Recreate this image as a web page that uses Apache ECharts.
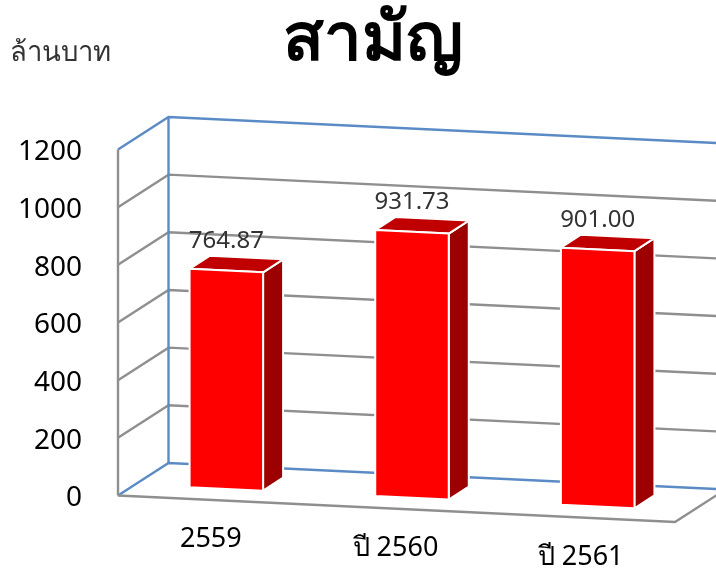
<!DOCTYPE html>
<html><head><meta charset="utf-8">
<style>html,body{margin:0;padding:0;background:#fff}#c{width:716px;height:569px}</style>
<script src="https://cdn.jsdelivr.net/npm/echarts@6/dist/echarts.min.js"></script>
</head><body><div id="c"></div>
<script>
const chartTitle = 'สามัญ';
const unitLabel = 'ล้านบาท';
const categories = ['2559', 'ปี 2560', 'ปี 2561'];
const values = [764.87, 931.73, 901.00];
const valueTicks = [0, 200, 400, 600, 800, 1000, 1200];

const FONT = '"Noto Sans","Open Sans",sans-serif';
const SLOPE = 0.0476, WALL = [50.5, -32.5], BAR_OFF = [15.5, -11], BAR_DEPTH = [20, -13];
const BAR_FORESHORTEN = 0.99;
const GRID = {left: 118, top: 149.5, width: 557, height: 346, outerBoundsMode: 'none'};
const GRAY = '#8f8f8f', BLUE = '#5b8bc6';

function shear(x, y) { return [x, y + SLOPE * (x - GRID.left)]; }
function line(pts, color) {
  return {type: 'polyline', shape: {points: pts}, style: {fill: null, stroke: color, lineWidth: 2.4}};
}
function renderFrame(params, api) {
  const tick = api.value(1);
  const band = api.size([1, 0])[0];
  const x0 = api.coord([0, tick])[0] - band / 2;
  const y = api.coord([0, tick])[1];
  const y0 = api.coord([0, 0])[1];
  const x1 = x0 + GRID.width;
  const color = (tick === 0 || tick === 1200) ? BLUE : GRAY;
  const bl = [x0 + WALL[0], y + WALL[1]];
  const br = [x1 + WALL[0], y + WALL[1] + SLOPE * GRID.width];
  const kids = [];
  if (tick === 1200) {
    kids.push(line([[x0, y], [x0, y0]], GRAY));
    kids.push(line([bl, [bl[0], y0 + WALL[1]]], BLUE));
  }
  kids.push(line([[x0, y], bl, br], color));
  if (tick === 0) {
    const fr = [x1, y + SLOPE * GRID.width];
    kids.push(line([[x0, y], fr, [fr[0] + WALL[0], fr[1] + WALL[1]]], GRAY));
  }
  return {type: 'group', children: kids};
}
function renderBar(params, api) {
  const i = api.value(0), v = api.value(1);
  const c = api.coord([i, v]), b = api.coord([i, 0]);
  const topY = b[1] + (c[1] - b[1]) * BAR_FORESHORTEN;
  const w = api.size([1, 0])[0] * 0.396;
  const l = c[0] - w / 2 + BAR_OFF[0], r = l + w;
  const P = (x, y, d) => {
    const p = shear(x - BAR_OFF[0], y);
    return [x + (d ? BAR_DEPTH[0] : 0), p[1] + BAR_OFF[1] + (d ? BAR_DEPTH[1] : 0)];
  };
  const border = {stroke: '#fff', lineWidth: 2, lineJoin: 'round'};
  const poly = (pts, fill, stroke) => ({type: 'polygon', shape: {points: pts},
    style: Object.assign({fill: fill}, stroke ? border : {})});
  const tl = P(l, topY, 0), tr = P(r, topY, 0), ttr = P(r, topY, 1), ttl = P(l, topY, 1);
  const bl = P(l, b[1], 0), br = P(r, b[1], 0), bbr = P(r, b[1], 1);
  return {type: 'group', children: [
    poly([tr, ttr, bbr, br], '#9c0000', true),
    poly([tl, ttl, ttr, tr], '#c00000', true),
    poly([tl, tr, br, bl], '#ff0000', true),
    {type: 'text', style: {x: (l + r) / 2, y: tl[1] - 27.5, text: v.toFixed(2), fill: '#333',
      font: '24px ' + FONT, align: 'center', verticalAlign: 'middle'}}
  ]};
}

const chart = echarts.init(document.getElementById('c'), null, {renderer: 'canvas'});
chart.setOption({
  animation: false,
  backgroundColor: '#fff',
  title: [
    {text: chartTitle, left: 368, top: 2, textAlign: 'center',
      textStyle: {fontSize: 67, fontWeight: 'bold', color: '#000', fontFamily: FONT}},
    {text: unitLabel, left: 5, top: 34,
      textStyle: {fontSize: 27.5, fontWeight: 'normal', color: '#333', fontFamily: FONT}}
  ],
  grid: GRID,
  xAxis: {
    type: 'category', data: categories,
    axisLine: {show: false}, axisTick: {show: false}, splitLine: {show: false},
    axisLabel: {
      margin: 30, interval: 0, color: '#000', fontFamily: FONT, fontSize: 27,
      formatter: (v, i) => '{c' + i + '|' + v + '}',
      rich: {
        c0: {fontSize: 27, fontFamily: FONT, color: '#000', padding: [0, 0, 0, 0]},
        c1: {fontSize: 27, fontFamily: FONT, color: '#000', padding: [9, 2, 0, 0]},
        c2: {fontSize: 27, fontFamily: FONT, color: '#000', padding: [18, 3, 0, 0]}
      }
    }
  },
  yAxis: {
    type: 'value', min: valueTicks[0], max: valueTicks[valueTicks.length - 1], interval: 200,
    axisLine: {show: false}, axisTick: {show: false}, splitLine: {show: false},
    axisLabel: {margin: 36, color: '#000', fontFamily: FONT, fontSize: 28,
      formatter: v => '{n|' + v + '}',
      rich: {n: {fontSize: 28, fontFamily: FONT, color: '#000', padding: [6, 0, 0, 0]}}}
  },
  series: [
    {type: 'custom', name: 'frame', renderItem: renderFrame, clip: false, silent: true,
      encode: {x: 0, y: 1}, data: valueTicks.map(t => [0, t]), z: 1},
    {type: 'custom', name: 'สามัญ', renderItem: renderBar, clip: false,
      encode: {x: 0, y: 1}, data: values.map((v, i) => [i, v]), z: 2}
  ]
});
</script></body></html>
